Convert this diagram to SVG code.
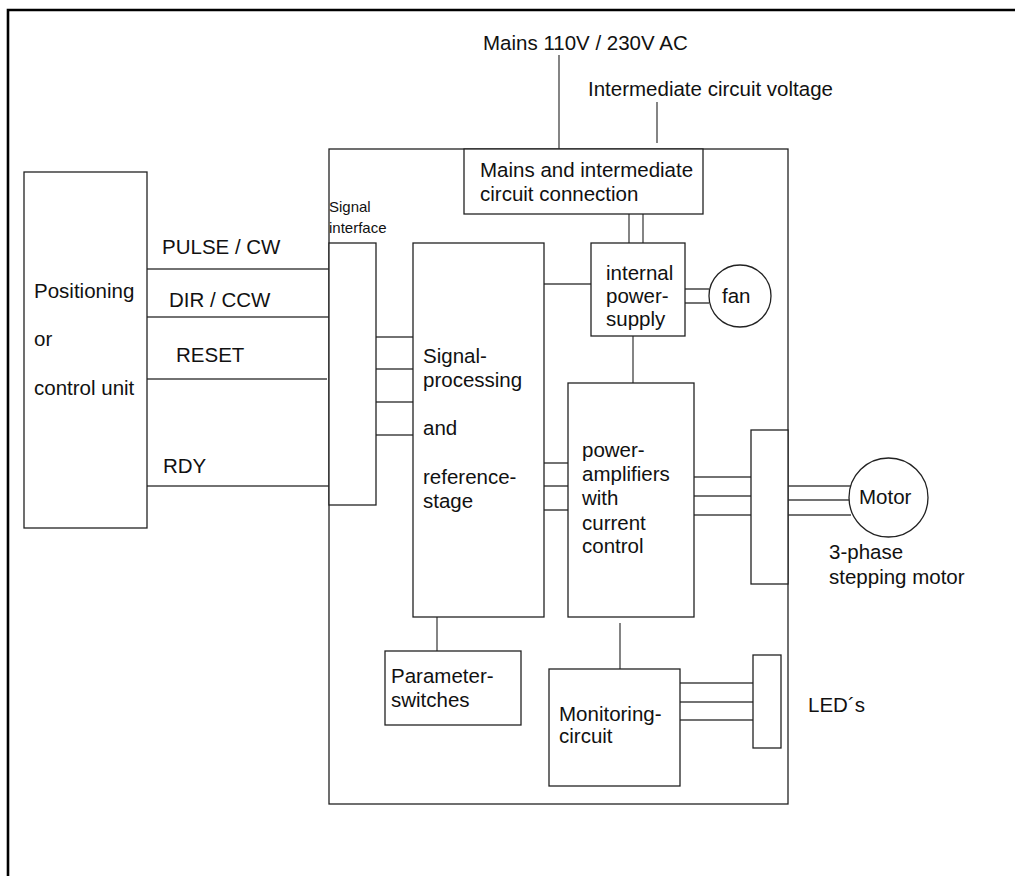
<svg xmlns="http://www.w3.org/2000/svg" width="1015" height="876" viewBox="0 0 1015 876">
<style>
.b{fill:#fff;stroke:#222;stroke-width:1.3}
.c{fill:none;stroke:#444;stroke-width:1.3}
text{font-family:"Liberation Sans",Arial,sans-serif;font-size:20.5px;fill:#111}
.s{font-size:15px}
</style>
<rect width="1015" height="876" fill="#fff"/>
<path d="M8,876 V10 H1015" fill="none" stroke="#000" stroke-width="2.6"/>
<g id="main"><rect class="b" x="329" y="149" width="459" height="655" stroke="#555"/></g>
<g id="connectors">
<path class="c" d="M559,55 V149 M657,102 V143 M629,214 V243 M643,214 V243"/>
<path class="c" d="M147,269 H329 M147,317 H329 M145,379 H327 M147,486 H329"/>
<path class="c" d="M376,337 H413 M376,369 H413 M376,402 H413 M376,435 H413"/>
<path class="c" d="M544,284 H591 M685,289 H709 M685,303 H709 M633,336 V383"/>
<path class="c" d="M544,463 H568 M544,486 H568 M544,510 H568"/>
<path class="c" d="M694,477 H751 M694,496 H751 M694,515 H751"/>
<path class="c" d="M788,486 H851 M788,500 H849 M788,515 H851"/>
<path class="c" d="M437,617 V651 M620,623 V669"/>
<path class="c" d="M680,683 H753 M680,702 H753 M680,720 H753"/>
</g>
<g id="mains-label"><text x="483" y="50">Mains 110V / 230V AC</text></g>
<g id="intermediate-label"><text x="588" y="96">Intermediate circuit voltage</text></g>
<g id="mains-box"><rect class="b" x="464" y="149" width="239" height="65"/>
<text x="480" y="177">Mains and intermediate</text><text x="480" y="201">circuit connection</text></g>
<g id="control-unit"><rect class="b" x="24" y="172" width="123" height="356"/>
<text x="34" y="298">Positioning</text><text x="34" y="346">or</text><text x="34" y="395">control unit</text></g>
<g id="signal-labels">
<text x="162" y="254">PULSE / CW</text><text x="169" y="307">DIR / CCW</text>
<text x="176" y="362">RESET</text><text x="163" y="473">RDY</text></g>
<g id="signal-interface"><rect class="b" x="329" y="243" width="47" height="262"/>
<text class="s" x="329" y="212">Signal</text><text class="s" x="329" y="233">interface</text></g>
<g id="signal-processing"><rect class="b" x="413" y="243" width="131" height="374"/>
<text x="423" y="363">Signal-</text><text x="423" y="387">processing</text><text x="423" y="435">and</text>
<text x="423" y="484">reference-</text><text x="423" y="508">stage</text></g>
<g id="power-supply"><rect class="b" x="591" y="243" width="94" height="93"/>
<text x="606" y="280">internal</text><text x="606" y="303">power-</text><text x="606" y="326">supply</text></g>
<g id="fan"><circle class="b" cx="740" cy="296" r="31"/><text x="722" y="303">fan</text></g>
<g id="power-amplifiers"><rect class="b" x="568" y="383" width="126" height="234"/>
<text x="582" y="457">power-</text><text x="582" y="481">amplifiers</text><text x="582" y="505">with</text>
<text x="582" y="530">current</text><text x="582" y="553">control</text></g>
<g id="motor-connector"><rect class="b" x="751" y="430" width="37" height="154"/></g>
<g id="motor"><circle class="b" cx="888.5" cy="497.5" r="39.5"/><text x="859" y="504">Motor</text>
<text x="829" y="559">3-phase</text><text x="829" y="584">stepping motor</text></g>
<g id="parameter-switches"><rect class="b" x="385" y="651" width="136" height="74"/>
<text x="391" y="683">Parameter-</text><text x="391" y="707">switches</text></g>
<g id="monitoring"><rect class="b" x="549" y="669" width="131" height="117"/>
<text x="559" y="721">Monitoring-</text><text x="559" y="743">circuit</text></g>
<g id="led-connector"><rect class="b" x="753" y="655" width="28" height="93"/></g>
<g id="leds"><text x="808" y="712">LED´s</text></g>
</svg>
